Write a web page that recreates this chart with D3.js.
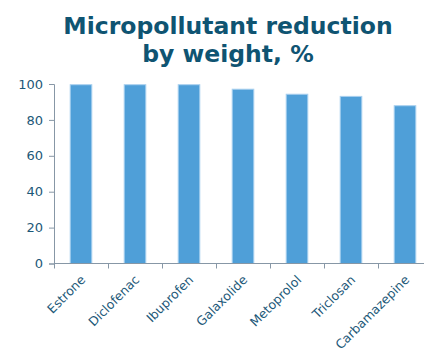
<!DOCTYPE html>
<html>
<head>
<meta charset="utf-8">
<script src="https://cdn.jsdelivr.net/npm/d3@7"></script>
<style>
  body { margin: 0; background: #fff; }
  svg text { font-family: "DejaVu Sans", Verdana, sans-serif; }
</style>
</head>
<body>
<div id="chart"></div>
<script>
// values
var substances = ["Estrone", "Diclofenac", "Ibuprofen", "Galaxolide", "Metoprolol", "Triclosan", "Carbamazepine"];
var reduction = [99.6, 99.6, 99.6, 97.1, 94.3, 93.1, 87.9];
var yTicks = [0, 20, 40, 60, 80, 100];
var titleLines = ["Micropollutant reduction", "by weight, %"];

var w = 424, h = 353;
var padLeft = 54, padRight = 432, plotTop = 84, plotBottom = 263.5;

var svg = d3.select("#chart").append("svg")
  .attr("width", w)
  .attr("height", h);

var x = d3.scaleBand().domain(substances).range([padLeft, padRight]).padding(0);
var y = d3.scaleLinear().domain([0, 100]).range([plotBottom, plotTop]);

// title
svg.append("text")
  .attr("text-anchor", "middle")
  .attr("font-size", 23.5)
  .attr("font-weight", "bold")
  .attr("fill", "#0f5472")
  .selectAll("tspan")
  .data(titleLines)
  .enter().append("tspan")
  .attr("x", 228)
  .attr("y", function(d, i){ return 33.5 + i * 28; })
  .text(function(d){ return d; });

// bars
var bw = x.bandwidth() * 0.4;
svg.selectAll("rect.bar")
  .data(substances)
  .enter().append("rect")
  .attr("class", "bar")
  .attr("x", function(d){ return x(d) + x.bandwidth() / 2 - bw / 2; })
  .attr("y", function(d, i){ return y(reduction[i]); })
  .attr("width", bw)
  .attr("height", function(d, i){ return y(0) - y(reduction[i]); })
  .attr("fill", "#4f9fd8")
  .attr("stroke", "#a9d0ef")
  .attr("stroke-width", 1);

// y axis
var yAxis = d3.axisLeft(y).tickValues(yTicks).tickSize(5).tickPadding(6);
var gy = svg.append("g")
  .attr("transform", "translate(" + padLeft + ",0)")
  .call(yAxis);
gy.select(".domain").attr("stroke", "#8797a6");
gy.selectAll(".tick line").attr("stroke", "#8797a6");
gy.selectAll(".tick text")
  .attr("font-size", 13)
  .attr("fill", "#1c5878")
  .style("font-family", "DejaVu Sans, sans-serif");

// x axis, ticks on band edges
var gx = svg.append("g")
  .attr("transform", "translate(0," + plotBottom + ")");
gx.append("line")
  .attr("x1", padLeft).attr("x2", w)
  .attr("stroke", "#8797a6");
gx.selectAll("line.tk")
  .data(substances)
  .enter().append("line")
  .attr("class", "tk")
  .attr("x1", function(d){ return x(d) + 0.5; })
  .attr("x2", function(d){ return x(d) + 0.5; })
  .attr("y1", 0).attr("y2", 5)
  .attr("stroke", "#8797a6");
gx.selectAll("text")
  .data(substances)
  .enter().append("text")
  .attr("transform", function(d){
    return "translate(" + (x(d) + x.bandwidth() / 2 + 2) + ",14) rotate(-45)";
  })
  .attr("text-anchor", "end")
  .attr("dy", "0.35em")
  .attr("font-size", 12.5)
  .attr("fill", "#1c5878")
  .text(function(d){ return d; });
</script>
</body>
</html>
